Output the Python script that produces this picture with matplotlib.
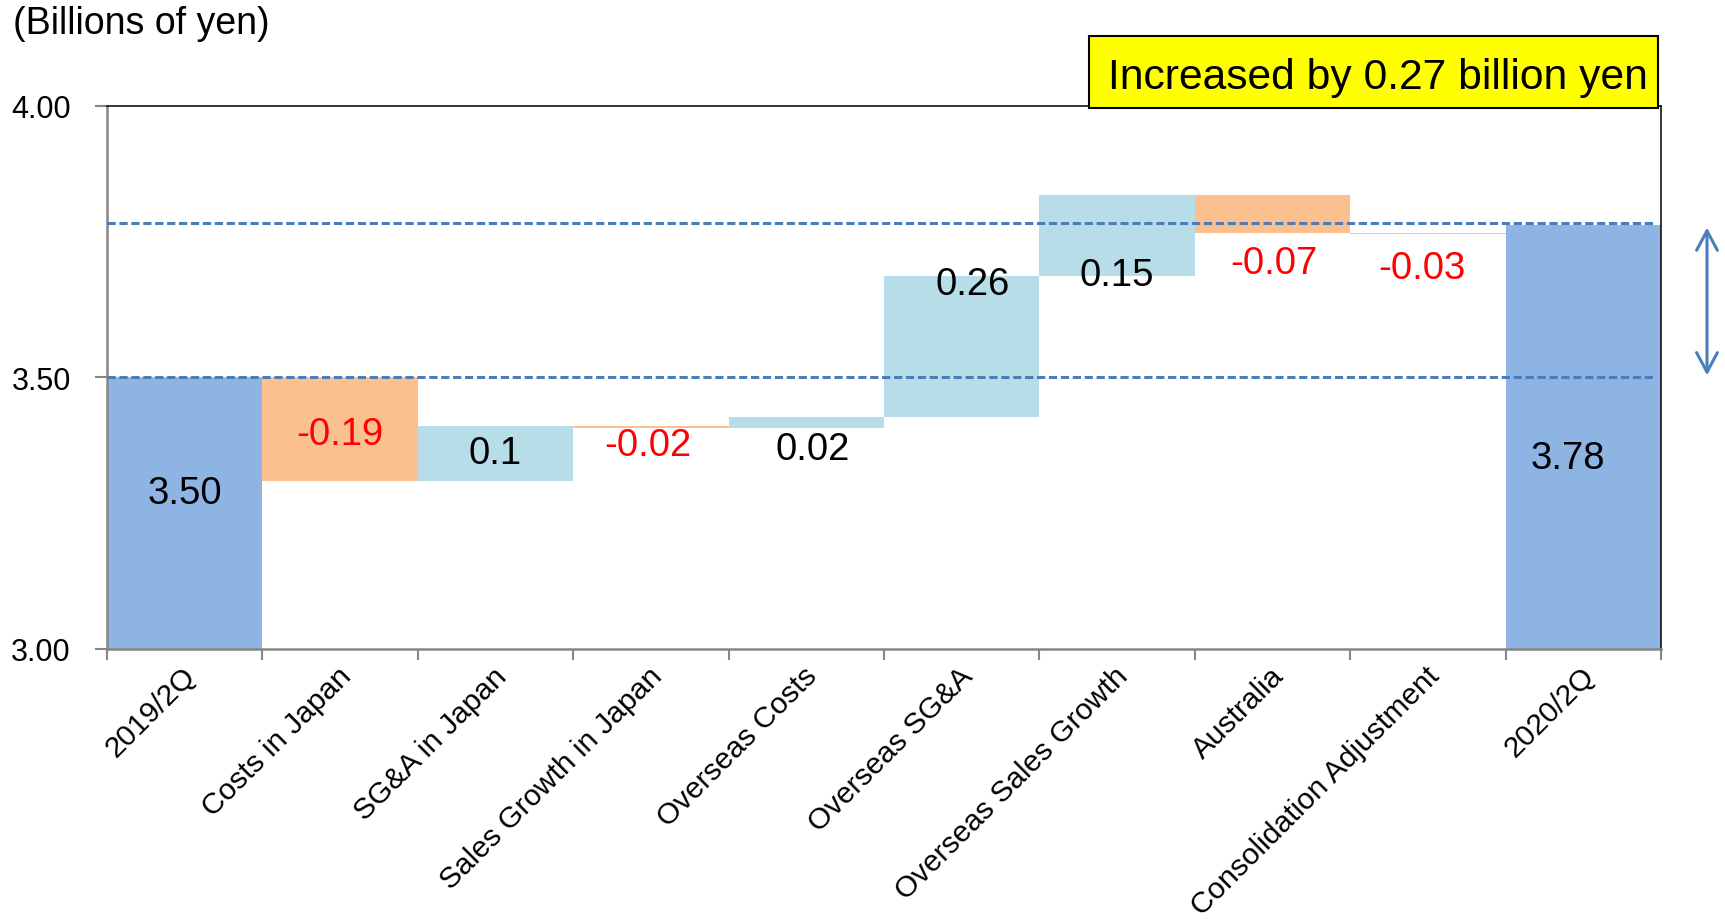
import numpy as np
import matplotlib.pyplot as plt
from matplotlib.patches import Rectangle
from matplotlib.transforms import ScaledTranslation

plt.rcParams['font.family'] = ['Liberation Sans', 'DejaVu Sans']

categories = ['2019/2Q', 'Costs in Japan', 'SG&A in Japan', 'Sales Growth in Japan',
              'Overseas Costs', 'Overseas SG&A', 'Overseas Sales Growth', 'Australia',
              'Consolidation Adjustment', '2020/2Q']
start_value = 3.50
end_value = 3.78
# printed change for each item
step_labels = ['-0.19', '0.1', '-0.02', '0.02', '0.26', '0.15', '-0.07', '-0.03']
# drawn change for each item (two of them show only as a flat line)
step_heights = [-0.19, 0.10, -0.003, 0.02, 0.26, 0.15, -0.07, -0.003]

# where each value label sits (data units / category offsets)
label_y = [3.288, 3.396, 3.361, 3.376, 3.369, 3.673, 3.689, 3.710, 3.702, 3.351]
label_dx = [0, 0, 0, -0.02, 0.04, 0.07, 0, 0.01, -0.04, -0.10]

TOTAL_COLOR = '#8EB4E3'
UP_COLOR = '#B7DDE8'
DOWN_COLOR = '#FAC090'
LINE_BLUE = '#4A7EBB'
AXIS_GRAY = '#868686'

fig = plt.figure(figsize=(17.25, 9.2), dpi=100)
ax = fig.add_axes([0.0620, 0.2935, 0.9009, 0.5902])

# build the waterfall
x = np.arange(len(categories))
bottoms = [0.0]
heights = [start_value]
colors = [TOTAL_COLOR]
level = start_value
for h in step_heights:
    bottoms.append(level)
    heights.append(h)
    colors.append(UP_COLOR if h > 0 else DOWN_COLOR)
    level += h
bottoms.append(0.0)
heights.append(end_value)
colors.append(TOTAL_COLOR)

ax.bar(x, heights, bottom=bottoms, width=1.0, color=colors, linewidth=0, zorder=2)

# value labels
texts = ['%.2f' % start_value] + step_labels + ['%.2f' % end_value]
for i, (t, y, dx) in enumerate(zip(texts, label_y, label_dx)):
    col = 'red' if t.startswith('-') else 'black'
    ax.text(i + dx, y, t, ha='center', va='center', fontsize=27.5, color=col, zorder=4)

# reference levels
ax.axhline(start_value, xmin=0, xmax=0.996, color=LINE_BLUE, lw=2.2,
           linestyle=(0, (2.7, 1.2)), zorder=3)
ax.axhline(end_value + 0.004, xmin=0, xmax=0.996, color=LINE_BLUE, lw=2.2,
           linestyle=(0, (2.7, 1.2)), zorder=3)

# double arrow showing the change
ax.annotate('', xy=(1.0296, end_value - 0.004), xytext=(1.0296, start_value + 0.004),
            xycoords=ax.get_yaxis_transform(), textcoords=ax.get_yaxis_transform(),
            arrowprops=dict(arrowstyle='<->,head_length=1.4,head_width=0.75',
                            color=LINE_BLUE, lw=2.2, shrinkA=0, shrinkB=0),
            annotation_clip=False)

# axes styling
ax.set_xlim(-0.5, len(categories) - 0.5)
ax.set_ylim(3.0, 4.0)
ax.set_yticks([3.0, 3.5, 4.0])
ax.yaxis.set_major_formatter('{x:.2f}')
ax.tick_params(axis='y', length=9, width=1.5, color=AXIS_GRAY, pad=17, labelsize=22)

ax.set_xticks(np.arange(-0.5, len(categories), 1.0))
ax.set_xticklabels([])
ax.tick_params(axis='x', which='major', length=8, width=1.5, color=AXIS_GRAY)
ax.set_xticks(x, minor=True)
ax.set_xticklabels(categories, minor=True, rotation=45, ha='right', va='top',
                   rotation_mode='anchor')
ax.tick_params(axis='x', which='minor', length=0, pad=9, labelsize=21.5)
shift = ScaledTranslation(-0.03, 0, fig.dpi_scale_trans)
for lab in ax.get_xticklabels(minor=True):
    lab.set_transform(lab.get_transform() + shift)

for side in ('left', 'bottom'):
    ax.spines[side].set_color(AXIS_GRAY)
    ax.spines[side].set_linewidth(1.8)
for side in ('top', 'right'):
    ax.spines[side].set_color('black')
    ax.spines[side].set_linewidth(1.1)

fig.text(0.0075, 0.974, '(Billions of yen)', fontsize=27, va='center', ha='left')

# highlighted summary box
fig.patches.append(Rectangle((0.6313, 0.8810), 0.3299, 0.0783, transform=fig.transFigure,
                             facecolor='#FFFF00', edgecolor='black', linewidth=1.5,
                             zorder=5))
fig.text(0.7990, 0.9150, 'Increased by 0.27 billion yen', fontsize=30.7, ha='center',
         va='center', zorder=6)

fig.savefig('out.png', dpi=100)
